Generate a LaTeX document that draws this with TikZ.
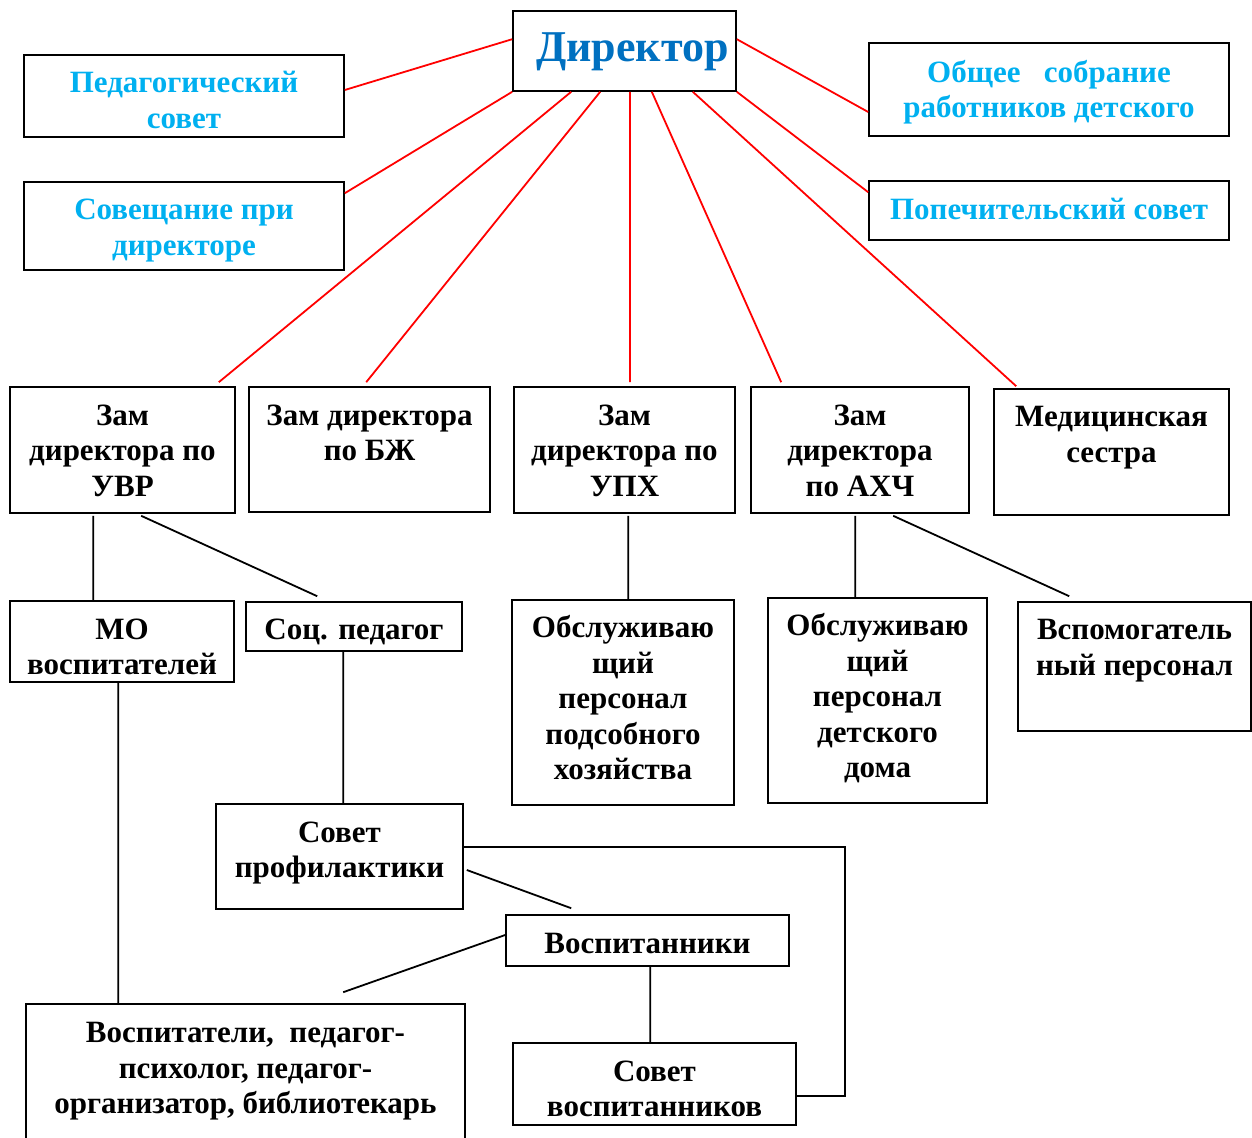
\documentclass[tikz,border=0pt]{standalone}
\usepackage{fontspec}
\setmainfont{Liberation Serif}
\usepackage{tikz}
\usepackage{xcolor}
\usetikzlibrary{positioning, calc}
\definecolor{dirblue}{HTML}{0070C0}
\definecolor{skyblue}{HTML}{00B0F0}
\newcommand{\bigtext}{\fontsize{44}{50}\selectfont\bfseries}
% text lines of a box, moved up by #1 inside the box
\newcommand{\boxlines}[2]{\raisebox{\dimexpr#1-3.5pt\relax}[\height][\depth]{\begin{tabular}{@{}c@{}}#2\end{tabular}}}

\begin{document}
\begin{tikzpicture}[x=1pt, y=-1pt,
    box/.style={draw, line width=1.6pt, inner sep=0pt,
      font=\fontsize{31}{35.5}\selectfont\bfseries},
    council/.style={box, text=skyblue},
    redline/.style={draw=red, line width=1.8pt},
    blackline/.style={draw=black, line width=1.8pt}]
    \useasboundingbox (0,0) rectangle (1252,1137);

    \node[box, font=\bigtext, text=dirblue, minimum width=223pt, minimum height=80pt] (dir) at (624.5, 51) {\boxlines{3pt}{\hspace*{16pt}Директор}};

    \node[council, minimum width=320pt, minimum height=82pt] (ped) at (184, 96) {\boxlines{-4pt}{Педагогический\\совет}};
    \node[council, minimum width=320pt, minimum height=88pt] (sov) at (184, 226) {\boxlines{-1pt}{Совещание при\\директоре}};
    \node[council, minimum width=360pt, minimum height=93pt] (obsh) at (1049, 89.5) {\boxlines{0pt}{Общее \ \ собрание\\работников детского}};
    \node[council, minimum width=360pt, minimum height=59pt] (pop) at (1049, 210.5) {\boxlines{1.5pt}{Попечительский совет}};

    \node[box, minimum width=225pt, minimum height=126pt] (uvr) at (122.5, 450) {\boxlines{0pt}{Зам\\директора по\\УВР}};
    \node[box, minimum width=241pt, minimum height=125pt] (bzh) at (369.5, 449.5) {\boxlines{17pt}{Зам директора\\по БЖ}};
    \node[box, minimum width=221pt, minimum height=126pt] (uph) at (624.5, 450) {\boxlines{0pt}{Зам\\директора по\\УПХ}};
    \node[box, minimum width=218pt, minimum height=126pt] (ahch) at (860, 450) {\boxlines{0pt}{Зам\\директора\\по АХЧ}};
    \node[box, minimum width=235pt, minimum height=126pt] (med) at (1111.5, 452) {\boxlines{18pt}{Медицинская\\сестра}};

    \node[box, minimum width=224pt, minimum height=81pt] (mo) at (122, 641.5) {\boxlines{-5pt}{МО\\воспитателей}};
    \node[box, minimum width=216pt, minimum height=49pt] (soc) at (354, 626.5) {\boxlines{-2.5pt}{Соц. педагог}};
    \node[box, minimum width=222pt, minimum height=205pt] (obs1) at (623, 702.5) {\boxlines{4.5pt}{Обслуживаю\\щий\\персонал\\подсобного\\хозяйства}};
    \node[box, minimum width=219pt, minimum height=205pt] (obs2) at (877.5, 700.5) {\boxlines{4.5pt}{Обслуживаю\\щий\\персонал\\детского\\дома}};
    \node[box, minimum width=233pt, minimum height=129pt] (vsp) at (1134.5, 666.5) {\boxlines{19.5pt}{Вспомогатель\\ный персонал}};

    \node[box, minimum width=247pt, minimum height=105pt] (prof) at (339.5, 856.5) {\boxlines{7pt}{Совет\\профилактики}};
    \node[box, minimum width=283pt, minimum height=51pt] (vosp) at (647.5, 940.5) {\boxlines{-2.5pt}{Воспитанники}};
    \node[box, minimum width=439pt, minimum height=136pt] (vtl) at (245.5, 1072) {\boxlines{4.5pt}{Воспитатели, \ педагог-\\психолог, педагог-\\организатор, библиотекарь}};
    \node[box, minimum width=283pt, minimum height=82pt] (svv) at (654.5, 1084) {\boxlines{-4.5pt}{Совет\\воспитанников}};

    % director to councils and deputies
    \draw[redline]
    ([yshift=-29pt]dir.north west) -- ([yshift=6pt]ped.east)
    (dir.south west) -- ([yshift=-12pt]sov.north east)
    ([yshift=-29pt]dir.north east) -- ([yshift=-22.5pt]obsh.west)
    (dir.south east) -- ([yshift=-12pt]pop.north west)
    ([xshift=59pt]dir.south west) -- ([xshift=-17pt, yshift=4pt]uvr.north east)
    ([xshift=88pt]dir.south west) -- ([xshift=118pt, yshift=4pt]bzh.north west)
    ([xshift=5.5pt]dir.south) -- ([xshift=5.5pt, yshift=4pt]uph.north)
    ([xshift=-85pt]dir.south east) -- ([xshift=31pt, yshift=4pt]ahch.north west)
    ([xshift=-44pt]dir.south east) -- ([xshift=23pt, yshift=2pt]med.north west);

    % deputies to staff
    \draw[blackline]
    ([xshift=84pt, yshift=-2pt]uvr.south west) -- ([xshift=84pt]mo.north west)
    ([xshift=132pt, yshift=-2pt]uvr.south west) -- ([xshift=72pt, yshift=5pt]soc.north west)
    ([xshift=115pt, yshift=-2pt]uph.south west) -- ([xshift=117pt]obs1.north west)
    ([xshift=105pt, yshift=-2pt]ahch.south west) -- ([xshift=88pt]obs2.north west)
    ([xshift=143pt, yshift=-2pt]ahch.south west) -- ([xshift=52pt, yshift=5pt]vsp.north west)
    ([xshift=98pt]soc.south west) -- ([xshift=128pt]prof.north west)
    ([xshift=109pt]mo.south west) -- ([xshift=93pt]vtl.north west)
    ([xshift=3pt, yshift=-13.5pt]prof.east) -- ([xshift=66pt, yshift=6pt]vosp.north west)
    ([yshift=5.5pt]vosp.west) -- ([xshift=318pt, yshift=11pt]vtl.north west)
    ([xshift=145pt]vosp.south west) -- ([xshift=138pt]svv.north west);

    \draw[blackline] ([yshift=9.5pt]prof.east) -- ++(381, 0) |- ([yshift=-12pt]svv.east);
\end{tikzpicture}
\end{document}
